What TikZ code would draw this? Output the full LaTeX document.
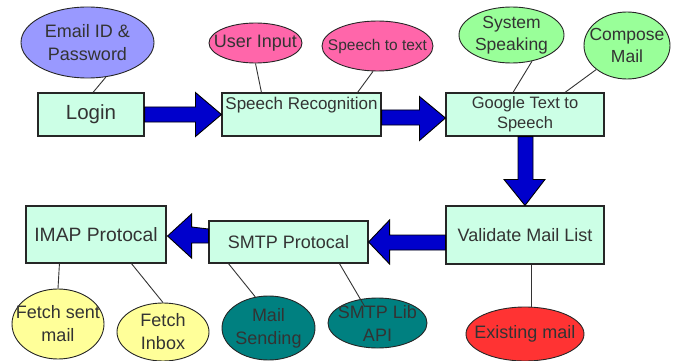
\documentclass[tikz,border=0pt]{standalone}
\usepackage{fontspec}
\setmainfont{Liberation Sans}
\usetikzlibrary{shapes.geometric,calc}
\definecolor{boxfill}{HTML}{CCFFE6}
\definecolor{violetfill}{HTML}{9999FF}
\definecolor{pinkfill}{HTML}{FF66AA}
\definecolor{greenfill}{HTML}{99FF99}
\definecolor{redfill}{HTML}{FF3333}
\definecolor{yellowfill}{HTML}{FFFF99}
\definecolor{tealfill}{HTML}{008080}
\definecolor{arrowblue}{HTML}{0000CC}
\definecolor{txt}{HTML}{333333}
\begin{document}
\begin{tikzpicture}[x=1pt,y=-1pt,
  box/.style={draw=black!85,line width=1.1pt,fill=boxfill,inner sep=0pt,text=txt,align=center,font=\fontsize{18}{22}\selectfont},
  oval/.style={ellipse,draw=black!85,line width=0.9pt,inner sep=0pt},
  lbl/.style={text=black!80,align=center,inner sep=0pt,font=\fontsize{18}{23}\selectfont},
  lblsmall/.style={lbl,font=\fontsize{15.5}{19}\selectfont},
  lblmid/.style={lbl,font=\fontsize{17.5}{22}\selectfont},
  link/.style={draw=black!80,line width=0.9pt},
  barrow/.style={draw=black,line width=0.9pt,fill=arrowblue,line join=miter}]
\useasboundingbox (0,0) rectangle (678,361);
% boxes
\node[box,minimum width=106,minimum height=43,font=\fontsize{20.5}{24}\selectfont] (login) at (91,114.5) {Login};
\node[box,minimum width=159,minimum height=43,text height=12.5,text depth=21.5,font=\fontsize{17}{20}\selectfont] (sr) at (301.5,114.5) {Speech Recognition};
\node[box,minimum width=158,minimum height=43,font=\fontsize{16.5}{20}\selectfont] (google) at (525,114.5) {Google Text to\\Speech};
\node[box,minimum width=158,minimum height=58] (validate) at (525,235) {Validate Mail List};
\node[box,minimum width=159,minimum height=42] (smtp) at (288.5,242) {SMTP Protocal};
\node[box,minimum width=140,minimum height=57,font=\fontsize{19.3}{22}\selectfont] (imap) at (96,234.5) {IMAP Protocal};
% ellipses
\node[oval,fill=violetfill,minimum width=133,minimum height=71,label={[lbl]center:{Email ID \&\\Password}}] (email) at (87.5,42.5) {};
\node[oval,fill=pinkfill,minimum width=93,minimum height=40,label={[lbl]center:{User Input}}] (user) at (255.5,43) {};
\node[oval,fill=pinkfill,minimum width=111,minimum height=50,label={[lblsmall]center:{Speech to text}}] (stt) at (377.5,46) {};
\node[oval,fill=greenfill,minimum width=105,minimum height=56,label={[lblmid]center:{System\\Speaking}}] (sys) at (511.5,35) {};
\node[oval,fill=greenfill,minimum width=86,minimum height=67,label={[lblmid]center:{Compose\\Mail}}] (compose) at (627,45.5) {};
\node[oval,fill=redfill,minimum width=118,minimum height=54,label={[lbl]center:{Existing mail}}] (existing) at (525,334) {};
\node[oval,fill=yellowfill,minimum width=92,minimum height=70,label={[lbl]center:{Fetch sent\\mail}}] (fsent) at (58,324) {};
\node[oval,fill=yellowfill,minimum width=92,minimum height=58,label={[lbl]center:{Fetch\\Inbox}}] (finbox) at (163,332) {};
\node[oval,fill=tealfill,minimum width=93,minimum height=64,label={[lbl]center:{Mail\\Sending}}] (msend) at (268.5,328) {};
\node[oval,fill=tealfill,minimum width=99,minimum height=50,label={[lbl]center:{SMTP Lib\\API}}] (slib) at (377.5,323) {};
% links
\draw[link] (email.-62) -- ($(login.north)+(2,0)$);
\draw[link] (user.south) -- ($(sr.north west)+(40,0)$);
\draw[link] (stt.-100) -- ($(sr.north east)+(-24,0)$);
\draw[link] (sys.-52) -- ($(google.north)+(-12,0)$);
\draw[link] (compose.-142) -- ($(google.north)+(40,0)$);
\draw[link] ($(validate.south)+(6,0)$) -- ($(existing.north)+(6,0.5)$);
\draw[link] ($(imap.south west)+(34,0)$) -- (fsent.north);
\draw[link] ($(imap.south west)+(106,0)$) -- (finbox.north);
\draw[link] ($(smtp.south west)+(20,0)$) -- (msend.113);
\draw[link] ($(smtp.south west)+(131,0)$) -- ($(slib.center)+(-12.5,-16)$);
% block arrows
\draw[barrow] ($(login.east)+(0,-7.5)$) -- ($(sr.west)+(-26,-7.5)$) -- ($(sr.west)+(-26,-22)$) -- (sr.west) -- ($(sr.west)+(-26,22)$) -- ($(sr.west)+(-26,7.5)$) -- ($(login.east)+(0,7.5)$) -- cycle;
\draw[barrow] ($(sr.east)+(0,-4.5)$) -- ($(google.west)+(-26,-4.5)$) -- ($(google.west)+(-26,-18)$) -- ($(google.west)+(0,3.5)$) -- ($(google.west)+(-26,26)$) -- ($(google.west)+(-26,10.5)$) -- ($(sr.east)+(0,10.5)$) -- cycle;
\draw[barrow] ($(google.south)+(-7,0)$) -- ($(validate.north)+(-7,-26)$) -- ($(validate.north)+(-21,-26)$) -- (validate.north) -- ($(validate.north)+(20,-26)$) -- ($(validate.north)+(8,-26)$) -- ($(google.south)+(8,0)$) -- cycle;
\draw[barrow] ($(validate.west)+(0,0)$) -- ($(smtp.east)+(21,-7)$) -- ($(smtp.east)+(21,-22)$) -- (smtp.east) -- ($(smtp.east)+(21,22)$) -- ($(smtp.east)+(21,8)$) -- ($(validate.west)+(0,15)$) -- cycle;
\draw[barrow] ($(smtp.west)+(0,-13)$) -- ($(imap.east)+(25,-7.5)$) -- ($(imap.east)+(25,-20.5)$) -- ($(imap.east)+(1,1.5)$) -- ($(imap.east)+(25,23.5)$) -- ($(imap.east)+(25,8.5)$) -- ($(smtp.west)+(0,1)$) -- cycle;
\end{tikzpicture}
\end{document}
